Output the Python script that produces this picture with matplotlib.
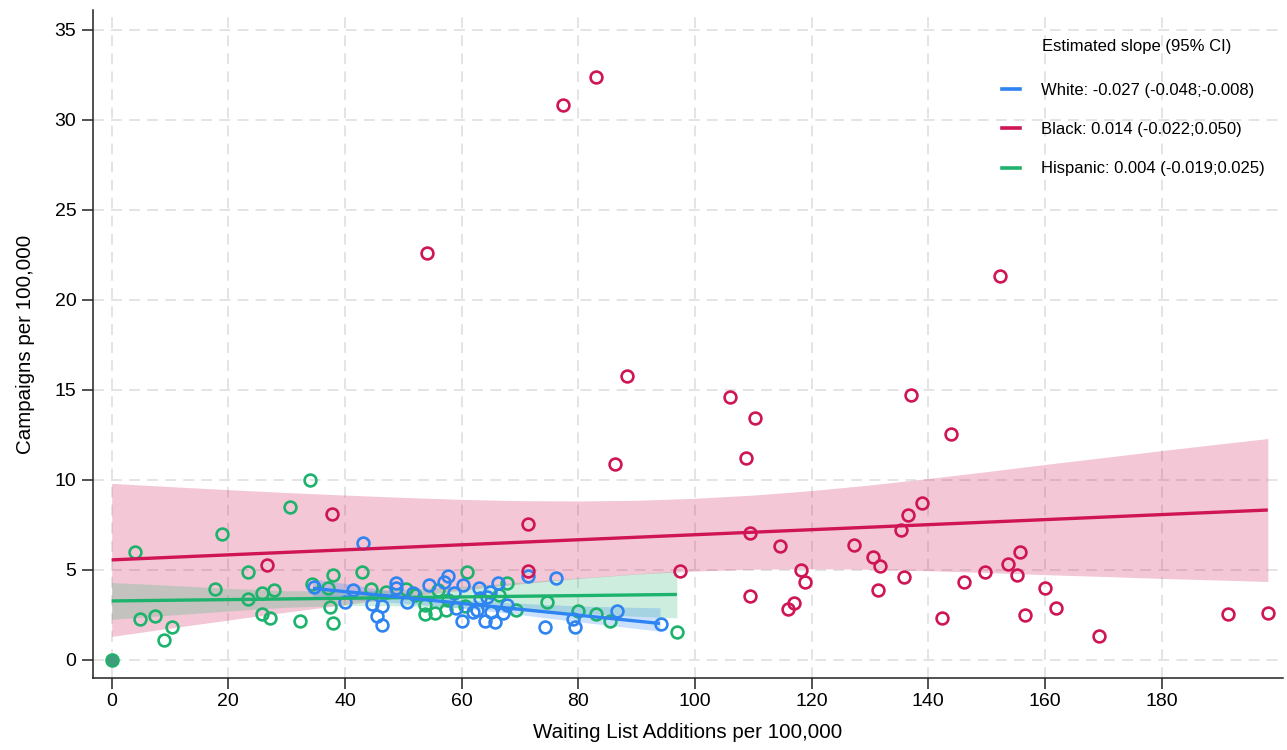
import numpy as np
import matplotlib
matplotlib.use("Agg")
import matplotlib.pyplot as plt
from matplotlib.lines import Line2D

plt.rcParams['font.family'] = ['Liberation Sans', 'DejaVu Sans']

# colours per group
c_white = '#2e84f0'
c_black = '#cf1556'
c_hisp = '#1db36d'

# scatter data
white_x = [43.0, 34.6, 41.4, 40.0, 44.6, 46.4, 45.4, 46.3, 48.7, 48.7, 50.6, 51.7,
           54.4, 57.0, 57.6, 58.7, 59.1, 60.3, 60.0, 63.0, 64.9, 63.1, 64.3, 62.6,
           61.9, 65.1, 67.1, 64.0, 65.7, 66.2, 67.7, 71.3, 76.1, 74.2, 79.0, 79.5,
           86.7, 94.1]
white_y = [6.48, 4.07, 3.89, 3.24, 3.10, 3.02, 2.44, 1.93, 4.30, 4.02, 3.22, 3.70,
           4.17, 4.35, 4.67, 3.70, 2.87, 4.17, 2.19, 3.98, 3.80, 3.43, 3.52, 2.78,
           2.69, 2.69, 2.59, 2.17, 2.13, 4.28, 3.06, 4.67, 4.55, 1.81, 2.30, 1.81,
           2.74, 1.98]

black_x = [83.0, 77.4, 54.1, 152.3, 88.4, 86.2, 71.3, 37.8, 26.6, 71.3, 97.5,
           106.0, 110.2, 137.1, 143.8, 108.8, 139.0, 136.6, 135.3, 109.5, 114.6,
           127.3, 130.5, 131.7, 155.7, 153.6, 155.2, 118.2, 118.9, 135.8, 146.1,
           149.7, 109.5, 131.4, 116.9, 115.9, 160.0, 161.9, 156.5, 142.4, 169.3,
           191.3, 198.2]
black_y = [32.4, 30.8, 22.6, 21.3, 15.8, 10.9, 7.54, 8.09, 5.30, 4.96, 4.92,
           14.63, 13.43, 14.69, 12.56, 11.2, 8.73, 8.03, 7.23, 7.03, 6.35,
           6.37, 5.70, 5.20, 6.00, 5.33, 4.72, 4.98, 4.34, 4.59, 4.34,
           4.91, 3.54, 3.86, 3.17, 2.84, 3.99, 2.90, 2.51, 2.34, 1.31,
           2.56, 2.60]

hisp_x = [4.0, 4.9, 7.4, 10.3, 9.0, 18.9, 17.7, 23.3, 23.4, 25.8, 27.8, 25.8, 27.2,
          30.6, 34.0, 32.2, 34.3, 37.1, 37.9, 37.5, 38.0, 42.9, 44.5, 47.1, 50.5,
          52.0, 53.7, 53.7, 55.4, 55.9, 57.3, 57.7, 60.6, 60.9, 66.4, 67.8, 69.3,
          74.7, 80.0, 83.0, 85.4, 96.9]
hisp_y = [5.98, 2.30, 2.46, 1.83, 1.09, 7.00, 3.94, 4.91, 3.39, 3.74, 3.91, 2.57, 2.31,
          8.48, 10.02, 2.17, 4.24, 3.98, 4.72, 2.95, 2.07, 4.87, 3.95, 3.78, 3.93,
          3.60, 3.06, 2.53, 2.62, 3.91, 2.78, 3.33, 2.98, 4.91, 3.61, 4.26, 2.78,
          3.24, 2.72, 2.56, 2.15, 1.57]

# overlapping observations at the origin
zero_x = [0.0]
zero_y = [0.0]

# fitted lines (end points) and 95% CI bands
white_fit_x = [34.5, 94.0]
white_fit_y = [3.98, 2.03]
white_band_x = [34.5, 40, 50, 60, 70, 80, 90, 94.0]
white_band_lo = [3.45, 3.38, 3.15, 2.88, 2.52, 2.12, 1.75, 1.60]
white_band_hi = [4.50, 4.25, 3.70, 3.35, 3.15, 3.00, 2.92, 2.90]

black_fit_x = [0.0, 198.2]
black_fit_y = [5.56, 8.33]
black_band_x = [0, 10, 20, 30, 40, 50, 60, 70, 80, 90, 100, 110, 120, 130, 140,
                150, 160, 170, 180, 190, 198.2]
black_band_lo = [1.31, 1.77, 2.22, 2.66, 3.08, 3.49, 3.88, 4.23, 4.53, 4.77, 4.94,
                 5.04, 5.07, 5.04, 4.96, 4.86, 4.74, 4.64, 4.53, 4.44, 4.36]
black_band_hi = [9.81, 9.63, 9.46, 9.30, 9.16, 9.03, 8.92, 8.85, 8.83, 8.87, 8.98,
                 9.16, 9.41, 9.72, 10.08, 10.46, 10.86, 11.24, 11.63, 12.00, 12.30]

hisp_fit_x = [0.0, 96.9]
hisp_fit_y = [3.28, 3.64]
hisp_band_x = [0, 10, 20, 30, 40, 50, 60, 70, 80, 90, 96.9]
hisp_band_lo = [2.26, 2.49, 2.72, 2.93, 3.03, 3.01, 2.90, 2.76, 2.60, 2.43, 2.34]
hisp_band_hi = [4.30, 4.15, 3.98, 3.85, 3.83, 3.93, 4.10, 4.32, 4.56, 4.79, 4.94]

legend_title = 'Estimated slope (95% CI)'
legend_labels = ['White: -0.027 (-0.048;-0.008)',
                 'Black: 0.014 (-0.022;0.050)',
                 'Hispanic: 0.004 (-0.019;0.025)']

fig = plt.figure(figsize=(12.87, 7.5), dpi=100)
ax = fig.add_axes([93/1287, 72/750, 1190/1287, 668/750])

# CI bands
ax.fill_between(black_band_x, black_band_lo, black_band_hi, color=c_black, alpha=0.24, lw=0, zorder=1)
ax.fill_between(hisp_band_x, hisp_band_lo, hisp_band_hi, color=c_hisp, alpha=0.22, lw=0, zorder=1.1)
ax.fill_between(white_band_x, white_band_lo, white_band_hi, color=c_white, alpha=0.25, lw=0, zorder=1.2)

# scatter points (hollow circles)
mk = dict(marker='o', ms=8.5, mfc='none', mew=1.9, ls='none', zorder=3)
ax.plot(hisp_x, hisp_y, mec=c_hisp, **mk)
ax.plot(white_x, white_y, mec=c_white, **mk)
ax.plot(black_x, black_y, mec=c_black, **mk)
ax.plot(zero_x, zero_y, marker='o', ms=9, mfc='#3f9c7a', mec=c_hisp, mew=1.5, ls='none', zorder=3)

# fitted lines
ax.plot(black_fit_x, black_fit_y, color=c_black, lw=2.4, zorder=4, solid_capstyle='butt')
ax.plot(hisp_fit_x, hisp_fit_y, color=c_hisp, lw=2.4, zorder=4, solid_capstyle='butt')
ax.plot(white_fit_x, white_fit_y, color=c_white, lw=2.4, zorder=4, solid_capstyle='butt')

ax.set_xlim(-3.2, 200.8)
ax.set_ylim(-1, 36.1)
ax.set_xticks(np.arange(0, 181, 20))
ax.set_yticks(np.arange(0, 36, 5))
ax.grid(True, color='#e2e2e2', ls=(0, (6, 4)), lw=1.3, zorder=0)
ax.set_axisbelow(True)

for s in ['top', 'right']:
    ax.spines[s].set_visible(False)
for s in ['left', 'bottom']:
    ax.spines[s].set_color('#222222')
    ax.spines[s].set_linewidth(1.1)
ax.tick_params(axis='both', direction='out', length=8, width=1.1, color='#222222',
               labelsize=14, pad=4)
ax.tick_params(axis='x', pad=3)

ax.set_xlabel('Waiting List Additions per 100,000', fontsize=14.8, labelpad=9)
ax.set_ylabel('Campaigns per 100,000', fontsize=14.8, labelpad=14)

# legend: title as separate text, entries below it
fig.text(1137/1287, 1 - 46/750, legend_title, ha='center', va='center', fontsize=12)
handles = [Line2D([0], [0], color=c, lw=2.6) for c in (c_white, c_black, c_hisp)]
fig.legend(handles, legend_labels, loc='upper left',
           bbox_to_anchor=(1002/1287, 1 - 83/750), frameon=False, fontsize=12,
           handlelength=1.1, handletextpad=1.25, labelspacing=1.45,
           borderpad=0, borderaxespad=0)

fig.savefig('out.png', dpi=100)
